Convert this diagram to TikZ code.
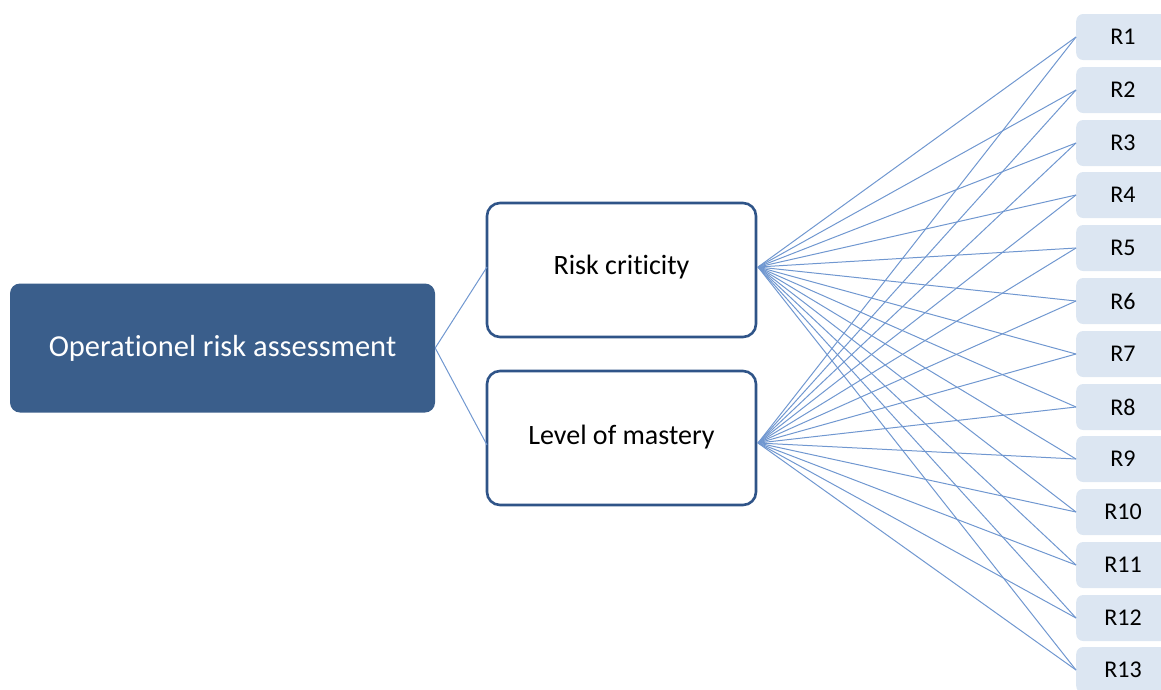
\documentclass[tikz,border=0pt]{standalone}
\usepackage{fontspec}
\setmainfont[RawFeature=-liga]{Carlito}
\begin{document}
\definecolor{mainfill}{HTML}{3A5E8B}
\definecolor{midborder}{HTML}{2F5488}
\definecolor{leafill}{HTML}{DCE6F2}
\definecolor{linkcol}{HTML}{7097D0}
\begin{tikzpicture}[x=1pt,y=-1pt,
  rootbox/.style={draw=none,fill=mainfill,rounded corners=10pt,minimum width=425pt,minimum height=129pt,
    text=white,font=\fontsize{30.5}{34}\selectfont,inner sep=0pt},
  midbox/.style={draw=midborder,line width=2.6pt,fill=white,rounded corners=13pt,minimum width=269pt,minimum height=134pt,inner sep=0pt},
  midtext/.style={font=\fontsize{28}{32}\selectfont,inner sep=0pt},
  leafbox/.style={draw=none,fill=leafill,rounded corners=7pt,minimum width=96pt,minimum height=46pt,inner sep=0pt,anchor=west},
  leaftext/.style={font=\fontsize{24}{28}\selectfont,inner sep=0pt},
  link/.style={draw=linkcol,line width=1pt}]
\useasboundingbox (0,0) rectangle (1161,689);
\begin{scope}
\clip (0,0) rectangle (1161,689);
% root and the two criteria
\node[rootbox] (root) at (222.5,348) {Operationel risk assessment};
\node[midbox] (crit) at (621.5,270) {};
\node[midtext] (critT) at (621.5,267) {Risk criticity};
\node[midbox] (mast) at (621.5,438) {};
\node[midtext] (mastT) at (621.5,437) {Level of mastery};
\coordinate (critE) at (758,267);
\coordinate (mastE) at (758,443);
\coordinate (critW) at (487,267);
\coordinate (mastW) at (487,445);
% risk leaves
\foreach \i/\y in {1/37,2/90,3/143,4/195,5/248,6/301,7/354,8/407,9/459,10/512,11/565,12/618,13/670}{
  \node[leafbox] (r\i) at (1076,\y) {};
  \node[leaftext] (r\i T) at (1123,\y) {R\i};
}
% connectors
\draw[link] (root.east) -- (critW);
\draw[link] (root.east) -- (mastW);
\foreach \i in {1,...,13}{
  \draw[link] (critE) -- (r\i.west);
  \draw[link] (mastE) -- (r\i.west);
}
\end{scope}
\end{tikzpicture}
\end{document}
